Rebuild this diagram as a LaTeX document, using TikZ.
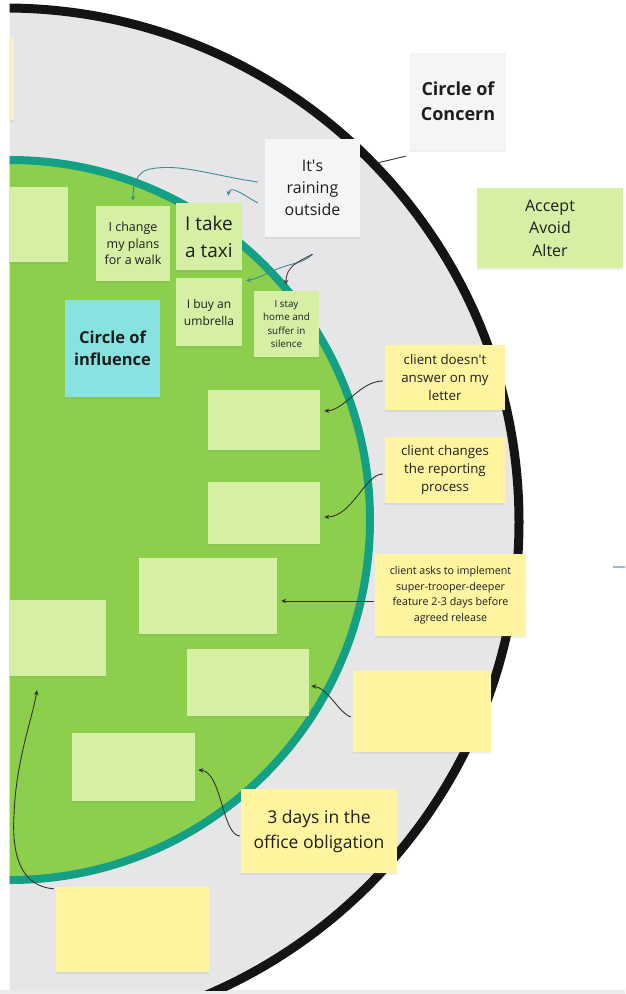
\documentclass[tikz,border=0pt]{standalone}
\usepackage{fontspec}
\setmainfont{Open Sans}
\usetikzlibrary{calc,arrows.meta,shadows}
\definecolor{diskgray}{HTML}{E6E6E8}
\definecolor{ringblack}{HTML}{141414}
\definecolor{ringteal}{HTML}{14A085}
\definecolor{inflgreen}{HTML}{8CCF4C}
\definecolor{palegreen}{HTML}{D5EFA5}
\definecolor{notecyan}{HTML}{88E3E0}
\definecolor{noteyellow}{HTML}{FFF4A0}
\definecolor{paleyellow}{HTML}{F4F1C6}
\definecolor{notewhite}{HTML}{F4F5F7}
\definecolor{txt}{HTML}{1E1E1E}
\definecolor{arrteal}{HTML}{3A8C96}
\definecolor{arrmaroon}{HTML}{5A3540}
\definecolor{arrdark}{HTML}{333333}
\definecolor{bluefrag}{HTML}{A8B4E0}
\definecolor{bottomband}{HTML}{EBEBEB}
\newcommand{\myfs}[2]{\fontsize{#1}{#2}\selectfont}
\tikzset{
  note/.style={rectangle, inner sep=0pt, align=center, text=txt,
    drop shadow={shadow xshift=0pt, shadow yshift=-1.5pt, opacity=0.12}},
  lgnote/.style={note, fill=palegreen},
  ylnote/.style={note, fill=noteyellow},
  whnote/.style={note, fill=notewhite},
  cynote/.style={note, fill=notecyan},
  conn/.style={draw=arrdark, line width=0.9pt, -{Stealth[length=5pt,width=4.5pt]}},
  tconn/.style={conn, draw=arrteal},
  mconn/.style={conn, draw=arrmaroon},
}
\begin{document}
\begin{tikzpicture}[x=1pt,y=-1pt]
\useasboundingbox (0,0) rectangle (625,994);
\fill[white] (0,0) rectangle (625,994);
\fill[bottomband] (0,990) rectangle (625,994);
\begin{scope}
\clip (9.5,0) rectangle (625,990);
% circle of concern
\draw[line width=9pt, draw=ringblack, fill=diskgray] (5,522) circle[radius=514pt];
% circle of influence
\draw[line width=8pt, draw=ringteal, fill=inflgreen] (10,520) circle[radius=360pt];
% partial note at the top-left edge
\node[note, fill=paleyellow, minimum width=44pt, minimum height=82pt] (edge) at (-8,79) {};

% notes
\node[whnote, minimum width=96pt, minimum height=97pt, font=\bfseries\myfs{18}{25}] (concern) at (458,101.5) {Circle of\\Concern};
\node[whnote, minimum width=95pt, minimum height=98pt, font=\myfs{16}{22}] (raining) at (312.5,188) {It\textquotesingle s\\raining\\outside};
\node[lgnote, minimum width=146pt, minimum height=80pt, font=\myfs{16}{22.5}] (accept) at (550,228) {Accept\\Avoid\\Alter};
\node[lgnote, minimum width=98pt, minimum height=75pt] (leftpart) at (19,224.5) {};
\node[lgnote, minimum width=74pt, minimum height=75pt, font=\myfs{12.5}{16.7}] (change) at (133,243.5) {I change\\my plans\\for a walk};
\node[lgnote, minimum width=66pt, minimum height=67pt, font=\myfs{19}{27}] (taxi) at (209,236.5) {I take\\a taxi};
\node[lgnote, minimum width=66pt, minimum height=68pt, font=\myfs{12}{17}] (umbrella) at (209,312) {I buy an\\umbrella};
\node[lgnote, minimum width=65pt, minimum height=66pt, font=\myfs{9.8}{13.3}] (stay) at (286.5,324) {I stay\\home and\\suffer in\\silence};
\node[cynote, minimum width=95pt, minimum height=97pt, font=\bfseries\myfs{16.5}{22}] (influence) at (112.5,348.5) {Circle of\\influence};
\node[lgnote, minimum width=112pt, minimum height=60pt] (e1) at (264,420) {};
\node[lgnote, minimum width=112pt, minimum height=62pt] (e2) at (264,513) {};
\node[lgnote, minimum width=138pt, minimum height=76pt] (e3) at (208,596) {};
\node[lgnote, minimum width=136pt, minimum height=76pt] (e4) at (38,638) {};
\node[lgnote, minimum width=122pt, minimum height=67pt] (e5) at (248,682.5) {};
\node[lgnote, minimum width=123pt, minimum height=68pt] (e6) at (133.5,767) {};
\node[ylnote, minimum width=120pt, minimum height=65pt, font=\myfs{13.3}{18.3}] (doesnt) at (445,377.5) {client doesn\textquotesingle t\\answer on my\\letter};
\node[ylnote, minimum width=120pt, minimum height=66pt, font=\myfs{13.3}{18.3}] (changes) at (445,470) {client changes\\the reporting\\process};
\node[ylnote, minimum width=151pt, minimum height=82pt, font=\myfs{10.7}{15.5}] (asks) at (450.5,595) {client asks to implement\\super-trooper-deeper\\feature 2-3 days before\\agreed release};
\node[ylnote, minimum width=138pt, minimum height=81pt] (y1) at (422,711.5) {};
\node[ylnote, minimum width=156pt, minimum height=84pt, font=\myfs{17.5}{25}] (days) at (319,831) {3 days in the\\office obligation};
\node[ylnote, minimum width=153pt, minimum height=85pt] (y2) at (132.5,929.5) {};

% connectors
\coordinate (cc) at (377,163);
\draw[draw=arrdark, line width=0.9pt] ($(concern.south west)+(-4,6)$) -- (cc);
\coordinate (rs) at ($(raining.south)+(0,17)$);
\draw[tconn] ($(raining.west)+(-7,-6)$) .. controls (215,176) and (180,163) .. (150,169) .. controls (136,172) and (133,185) .. ($(change.north)+(0,-5)$);
\draw[tconn] ($(raining.west)+(-7,15)$) .. controls (245,196) and (230,184) .. ($(taxi.north)+(19,-7)$);
\draw[tconn] (rs) .. controls (303,264) and (290,263) .. (275,270) .. controls (262,276) and (255,279) .. ($(umbrella.north east)+(4,3)$);
\draw[mconn] (rs) .. controls (298,262) and (286,266) .. ($(stay.north)+(-0.5,-6)$);
\draw[conn] ($(doesnt.west)+(-2,3.5)$) .. controls (360,381) and (345,410) .. ($(e1.east)+(4,-9)$);
\draw[conn] ($(changes.west)+(-2,4)$) .. controls (365,474) and (352,517) .. ($(e2.east)+(4,4)$);
\draw[conn] ($(asks.west)+(-1,6)$) -- ($(e3.east)+(4,5)$);
\draw[conn] ($(y1.west)+(-2,5.5)$) .. controls (338,712) and (328,688) .. ($(e5.east)+(2,3.5)$);
\draw[conn] ($(days.west)+(-1,5)$) .. controls (222,835) and (222,772) .. ($(e6.east)+(3,3)$);
\draw[conn] ($(y2.north west)+(-2,2)$) .. controls (18,886) and (12,850) .. (14,815) .. controls (16,760) and (32,720) .. ($(e4.south)+(-1,14)$);
\coordinate (bl1) at (613,567);
\coordinate (bl2) at (625,567);
\draw[draw=bluefrag, line width=1.5pt] (bl1) -- (bl2);
\end{scope}
\end{tikzpicture}
\end{document}
